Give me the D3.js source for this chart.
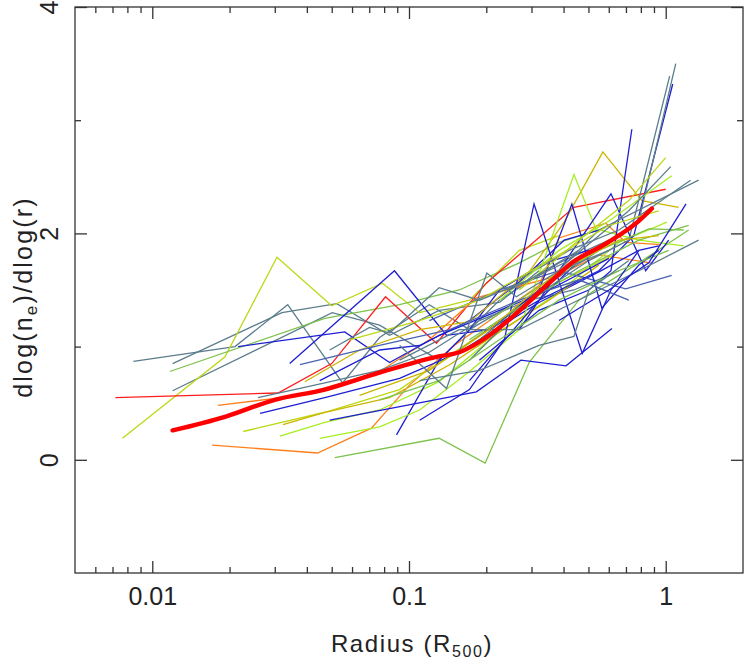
<!DOCTYPE html>
<html>
<head>
<meta charset="utf-8">
<script src="https://cdn.jsdelivr.net/npm/d3@7"></script>
<style>
  html, body { margin: 0; padding: 0; background: #ffffff; }
  svg { display: block; }
  text { font-family: "Liberation Sans", Arial, sans-serif; fill: #222; }
</style>
</head>
<body>
<div id="chart"></div>
<script>
// ---------------- data ----------------
const profileColors = [
  "slate","slate","slate","ygreen","green","red","orange","orange","ygreen","lime",
  "green","blue","blue","blue","blue","blue","slate","yellow","yellow","lime",
  "blue","blue","steel","blue","blue","slate","slate","blue","blue","slate",
  "lime","slate","ygreen","green","green","slate","ygreen","steel","green","slate",
  "yellow","blue","slate","slate","slate"
];
const profileRadii = [
  [0.00844,0.0210,0.0337,0.0551,0.0768,0.120,0.172,0.269],
  [0.0120,0.0320,0.0523,0.0840,0.131,0.225,0.321],
  [0.0120,0.0502,0.0768,0.131,0.225,0.384,0.601],
  [0.00765,0.0192,0.0306,0.0500,0.0788,0.110,0.172,0.269,0.384],
  [0.0117,0.0470,0.0919,0.157,0.269,0.384,0.549],
  [0.00718,0.0309,0.0500,0.0810,0.128,0.200,0.439,1.0],
  [0.0171,0.0440,0.0714,0.1004,0.150,0.321,0.384,0.585,0.699,0.956],
  [0.0180,0.0376,0.0768,0.120,0.183,0.384,0.549,0.874],
  [0.0226,0.0470,0.0919,0.131,0.225,0.384,0.628],
  [0.0314,0.0470,0.0768,0.131,0.225,0.384,0.657,1.01],
  [0.0514,0.131,0.198,0.294,0.459,0.786,1.228],
  [0.0263,0.0470,0.0919,0.157,0.321,0.549,0.786],
  [0.0343,0.0878,0.140,0.205,0.321,0.459],
  [0.0216,0.0562,0.0840,0.131,0.225,0.351,0.601],
  [0.0449,0.0768,0.110,0.172,0.269,0.402,0.549],
  [0.0894,0.131,0.172,0.225,0.336,0.502],
  [0.0258,0.0470,0.0768,0.120,0.188,0.294,0.439,0.657],
  [0.0393,0.0642,0.110,0.172,0.294,0.402,0.569,0.807,1.123],
  [0.0323,0.0470,0.0840,0.144,0.225,0.351,0.549],
  [0.0449,0.0768,0.110,0.172,0.269,0.439,0.535,0.786,1.175],
  [0.0491,0.183,0.273,0.409,0.617],
  [0.110,0.172,0.235,0.307,0.473,0.612,0.786,0.939],
  [0.120,0.225,0.384,0.699,1.055],
  [0.188,0.321,0.502,0.612,0.738],
  [0.172,0.321,0.549,0.751,1.065],
  [0.188,0.321,0.549,0.786,1.094],
  [0.157,0.294,0.502,0.718,1.036],
  [0.205,0.321,0.431,0.564,0.786,0.939],
  [0.269,0.384,0.612,0.836,1.027],
  [0.269,0.420,0.657,1.250],
  [0.225,0.384,0.601,1.055],
  [0.246,0.420,0.718,1.046],
  [0.269,0.459,0.718,1.0],
  [0.205,0.351,0.549,0.859,1.175],
  [0.172,0.294,0.459,0.786,1.228],
  [0.172,0.294,0.549,1.343],
  [0.0587,0.110,0.188,0.351,0.601,0.939],
  [0.0376,0.0768,0.144,0.269,0.459,0.718],
  [0.0768,0.131,0.225,0.384,0.657,1.027],
  [0.0919,0.157,0.269,0.420,0.786,1.343],
  [0.0642,0.120,0.205,0.384,0.657,0.939],
  [0.384,0.601,0.859,1.20],
  [0.110,0.188,0.321,0.439,0.502,0.718],
  [0.0491,0.0702,0.0840,0.131,0.188,0.294,0.459],
  [0.0919,0.140,0.201,0.262,0.384,0.601]
];
const profileSlopes = [
  [0.87,1.00,1.37,0.68,1.08,1.37,1.15,1.41],
  [0.85,1.30,1.38,1.10,1.32,1.39,1.67],
  [0.61,1.30,1.19,0.88,1.41,1.74,1.94],
  [0.19,0.91,1.79,1.36,1.56,1.30,1.41,1.85,1.98],
  [0.78,1.25,1.37,1.50,1.74,1.92,2.03],
  [0.55,0.59,0.85,1.44,1.03,1.56,2.23,2.39],
  [0.13,0.06,0.28,0.66,1.01,1.54,1.96,2.09,1.92,1.90],
  [0.48,0.57,0.78,1.06,1.43,1.63,1.81,1.74],
  [0.25,0.42,0.62,0.86,1.22,1.57,1.81],
  [0.21,0.33,0.44,0.69,1.13,1.48,1.92,2.10],
  [0.02,0.19,-0.03,0.86,1.41,1.74,2.03],
  [0.41,0.55,0.72,0.95,1.39,1.66,1.85],
  [0.85,1.67,1.10,1.15,1.41,1.76],
  [1.00,1.13,0.86,1.10,1.32,1.50,1.78],
  [0.70,0.97,1.01,1.23,1.57,1.94,2.03],
  [0.22,0.88,1.15,1.50,1.74,1.85],
  [0.55,0.68,0.79,0.95,1.23,1.41,1.50,1.67],
  [0.69,0.97,1.15,1.22,1.66,2.10,2.72,2.29,2.23],
  [0.31,0.42,0.55,0.84,1.13,1.41,1.72],
  [0.19,0.29,0.44,0.78,1.15,2.52,2.04,1.94,1.89],
  [0.35,0.60,0.88,0.83,1.16],
  [0.35,0.62,1.06,2.26,0.94,1.50,1.85,1.89],
  [1.23,1.50,1.67,1.51,1.63],
  [0.88,1.32,1.50,1.67,2.92],
  [0.70,1.41,1.67,1.98,3.32],
  [1.06,1.50,1.85,2.11,3.50],
  [0.97,1.41,1.76,1.94,3.39],
  [1.15,1.50,2.26,1.34,1.72,1.85],
  [1.15,1.67,2.35,1.67,1.94],
  [1.59,1.85,2.03,2.47],
  [1.41,1.85,2.11,2.51],
  [1.50,1.76,2.20,2.59],
  [1.50,1.94,2.29,2.67],
  [1.23,1.59,1.85,2.04,2.03],
  [1.06,1.41,1.67,1.94,2.07],
  [0.88,1.41,2.03,2.47],
  [1.06,1.23,1.41,1.76,2.07,2.20],
  [0.84,1.01,1.15,1.41,1.59,1.41],
  [0.53,0.70,1.06,1.41,1.67,1.85],
  [0.88,1.15,1.15,1.37,1.67,1.94],
  [0.57,0.79,1.15,1.67,1.94,1.98],
  [1.23,1.50,1.74,2.26],
  [0.70,0.79,1.01,1.09,1.50,1.76],
  [0.97,1.17,1.12,1.52,1.41,1.59,1.85],
  [1.01,0.63,1.65,1.44,1.67,1.85]
];
const meanRadius = [0.0120,0.0192,0.030,0.047,0.0768,0.128,0.157,0.200,0.252,0.351,0.431,0.585,0.786,0.883];
const meanSlope  = [0.26,0.38,0.53,0.62,0.77,0.91,0.95,1.08,1.26,1.56,1.74,1.91,2.11,2.22];

const xMajorTicks = [0.01, 0.1, 1];
const xMinorTicks = [0.006,0.007,0.008,0.009,0.02,0.03,0.04,0.05,0.06,0.07,0.08,0.09,0.2,0.3,0.4,0.5,0.6,0.7,0.8,0.9];
const yMajorTicks = [0, 2, 4];
const yMinorTicks = [1, 3];
const xTickLabels = ["0.01", "0.1", "1"];

const colorMap = {
  blue: "#1e1ed2", slate: "#5b7d8c", steel: "#4862b0", green: "#7dc24b",
  lime: "#a6ee22", ygreen: "#bcd814", yellow: "#cdb500", orange: "#ff7f1e", red: "#ff1e1e"
};

// ---------------- layout ----------------
const W = 747, H = 664;
const L = 75, R = 743, T = 7, B = 573;

const svg = d3.select("#chart").append("svg").attr("width", W).attr("height", H);

const x = d3.scaleLog().domain([0.005, 2]).range([L, R]);
const y = d3.scaleLinear().domain([-1, 4]).range([B, T]);

svg.append("clipPath").attr("id", "plotclip")
  .append("rect").attr("x", L).attr("y", T).attr("width", R - L).attr("height", B - T);

const lineGen = d3.line().x(d => x(d[0])).y(d => y(d[1]));

const gLines = svg.append("g").attr("clip-path", "url(#plotclip)");
profileRadii.forEach((rs, i) => {
  const pts = rs.map((r, j) => [r, profileSlopes[i][j]]);
  gLines.append("path")
    .attr("d", lineGen(pts))
    .attr("fill", "none")
    .attr("stroke", colorMap[profileColors[i]])
    .attr("stroke-width", 1.3)
    .attr("stroke-linejoin", "miter");
});

const meanGen = d3.line().x(d => x(d[0])).y(d => y(d[1])).curve(d3.curveMonotoneX);
gLines.append("path")
  .attr("d", meanGen(meanRadius.map((r, j) => [r, meanSlope[j]])))
  .attr("fill", "none")
  .attr("stroke", "#ff0000")
  .attr("stroke-width", 4.4)
  .attr("stroke-linecap", "round");

// ---------------- axes ----------------
const axisColor = "#333";
function styleAxis(g) {
  g.select(".domain").remove();
  g.selectAll(".tick line").attr("stroke", axisColor).attr("stroke-width", 1.3);
}

// bottom
svg.append("g").attr("transform", `translate(0,${B})`)
  .call(d3.axisBottom(x).tickValues(xMajorTicks).tickSize(-12).tickPadding(14)
        .tickFormat((d, i) => xTickLabels[i]))
  .call(styleAxis)
  .call(g => g.selectAll("text").attr("font-size", 25).attr("fill", "#222")
        .style("font-family", "'Liberation Sans', Arial, sans-serif"));
svg.append("g").attr("transform", `translate(0,${B})`)
  .call(d3.axisBottom(x).tickValues(xMinorTicks).tickSize(-6).tickFormat(""))
  .call(styleAxis);
// top
svg.append("g").attr("transform", `translate(0,${T})`)
  .call(d3.axisTop(x).tickValues(xMajorTicks).tickSize(-12).tickFormat(""))
  .call(styleAxis);
svg.append("g").attr("transform", `translate(0,${T})`)
  .call(d3.axisTop(x).tickValues(xMinorTicks).tickSize(-6).tickFormat(""))
  .call(styleAxis);
// left
svg.append("g").attr("transform", `translate(${L},0)`)
  .call(d3.axisLeft(y).tickValues(yMajorTicks).tickSize(-12).tickFormat(d3.format("d")))
  .call(styleAxis)
  .call(g => g.selectAll("text")
        .attr("transform", "rotate(-90)")
        .attr("x", 0).attr("y", -17).attr("dy", 0)
        .attr("text-anchor", "middle")
        .attr("font-size", 25).attr("fill", "#222")
        .style("font-family", "'Liberation Sans', Arial, sans-serif"));
svg.append("g").attr("transform", `translate(${L},0)`)
  .call(d3.axisLeft(y).tickValues(yMinorTicks).tickSize(-6).tickFormat(""))
  .call(styleAxis);
// right
svg.append("g").attr("transform", `translate(${R},0)`)
  .call(d3.axisRight(y).tickValues(yMajorTicks).tickSize(-12).tickFormat(""))
  .call(styleAxis);
svg.append("g").attr("transform", `translate(${R},0)`)
  .call(d3.axisRight(y).tickValues(yMinorTicks).tickSize(-6).tickFormat(""))
  .call(styleAxis);

// frame
svg.append("rect").attr("x", L).attr("y", T).attr("width", R - L).attr("height", B - T)
  .attr("fill", "none").attr("stroke", axisColor).attr("stroke-width", 1.3);

// ---------------- labels ----------------
const xl = svg.append("text")
  .attr("x", 412).attr("y", 652)
  .attr("text-anchor", "middle")
  .attr("font-size", 24)
  .style("letter-spacing", "1.6px");
xl.append("tspan").text("Radius (R");
xl.append("tspan").attr("font-size", 16).attr("dy", 5).text("500");
xl.append("tspan").attr("dy", -5).text(")");

const yl = svg.append("text")
  .attr("transform", "translate(32,297) rotate(-90)")
  .attr("text-anchor", "middle")
  .attr("font-size", 25)
  .style("letter-spacing", "2.2px");
yl.append("tspan").text("dlog(n");
yl.append("tspan").attr("font-size", 17).attr("dy", 5).text("e");
yl.append("tspan").attr("dy", -5).text(")/dlog(r)");
</script>
</body>
</html>
